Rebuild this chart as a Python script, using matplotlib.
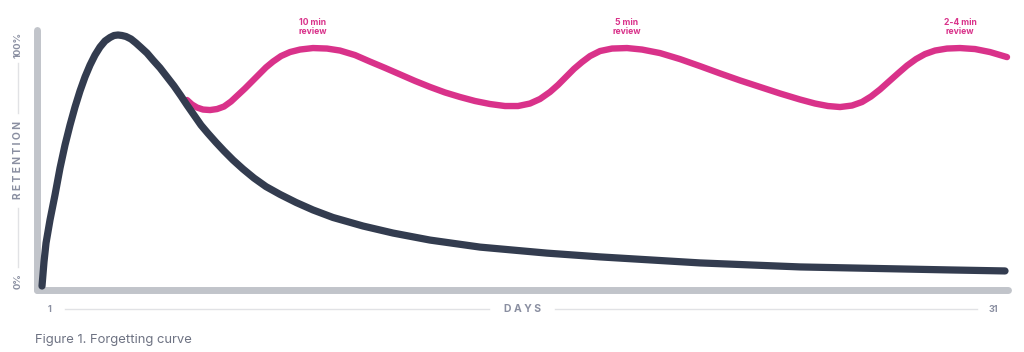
import matplotlib
matplotlib.use("Agg")
import matplotlib.pyplot as plt

# ---- data (days vs retention %) ----
forget_days = [1.000, 1.062, 1.125, 1.249, 1.405, 1.561, 1.717, 1.872, 2.028, 2.184,
               2.340, 2.495, 2.651, 2.807, 2.963, 3.118, 3.243, 3.368, 3.492, 3.617,
               3.773, 3.928, 4.084, 4.271, 4.458, 4.676, 4.894, 5.112, 5.330, 5.517,
               5.735, 5.953, 6.171, 6.421, 6.670, 6.950, 7.262, 7.604, 7.978, 8.414,
               8.913, 9.442, 10.065, 11.000, 11.935, 13.087, 14.645, 16.732, 18.383,
               19.941, 21.498, 23.056, 24.614, 26.171, 27.729, 29.287, 31.000]
forget_ret = [0.0, 9.6, 17.1, 26.3, 36.3, 47.0, 56.2, 64.1, 71.3, 77.7,
              83.3, 88.0, 92.0, 95.2, 97.6, 99.0, 99.8, 100.0, 99.8, 99.4,
              98.4, 96.8, 95.0, 92.8, 90.0, 86.9, 83.3, 79.7, 75.7, 72.1,
              68.1, 64.1, 60.8, 57.2, 53.8, 50.2, 46.6, 43.0, 39.6, 36.5,
              33.3, 30.3, 27.3, 23.9, 21.1, 18.3, 15.5, 13.1, 11.6,
              10.4, 9.2, 8.4, 7.6, 7.2, 6.8, 6.4, 6.0]

review_days = [5.517, 5.673, 5.829, 6.016, 6.234, 6.452, 6.670, 6.888, 7.106, 7.324,
               7.542, 7.760, 7.978, 8.196, 8.445, 8.726, 9.037, 9.442, 9.879, 10.283,
               10.751, 11.218, 11.685, 12.153, 12.620, 13.087, 13.555, 14.022, 14.489, 14.956,
               15.424, 15.829, 16.202, 16.514, 16.826, 17.075, 17.324, 17.573, 17.822, 18.072,
               18.383, 18.757, 19.224, 19.692, 20.252, 20.875, 21.498, 22.121, 22.745, 23.368,
               23.991, 24.614, 25.081, 25.486, 25.860, 26.234, 26.545, 26.826, 27.106, 27.386,
               27.667, 27.947, 28.227, 28.508, 28.819, 29.193, 29.598, 30.065, 30.533, 31.062]
review_ret = [74.1, 72.3, 71.1, 70.3, 70.1, 70.5, 71.5, 73.5, 76.1, 78.7,
              81.5, 84.3, 87.1, 89.4, 91.6, 93.2, 94.2, 94.8, 94.6, 93.8,
              92.0, 89.4, 86.9, 84.3, 81.7, 79.3, 77.1, 75.3, 73.7, 72.5,
              71.7, 71.7, 72.7, 74.5, 77.3, 80.1, 83.3, 86.5, 89.2, 91.6,
              93.6, 94.6, 94.8, 94.2, 92.8, 90.4, 87.6, 84.7, 81.9, 79.3,
              76.7, 74.3, 72.7, 71.7, 71.3, 71.9, 73.3, 75.5, 78.3, 81.5,
              84.7, 87.8, 90.4, 92.4, 93.8, 94.6, 94.8, 94.4, 93.2, 91.2]

review_labels = ["10 min\nreview", "5 min\nreview", "2-4 min\nreview"]
review_label_days = [9.442, 19.224, 29.598]
review_label_ret = [94.8, 94.8, 94.8]

x_tick_labels = ["1", "31"]
y_tick_labels = ["0%", "100%"]

DARK = "#333c4f"
PINK = "#d9328a"
SPINE = "#c1c4ca"
LABEL = "#8a8fa1"
RULE = "#e1e2e5"

W, H = 1024, 352
fig = plt.figure(figsize=(W / 100, H / 100), dpi=100)
plt.rcParams['font.family'] = ['Inter', 'DejaVu Sans']

# main axes: pixel box left 37, right 1008, top 30, bottom 290
L, R, T, B = 37, 1008, 30, 290
ax = fig.add_axes([L / W, 1 - B / H, (R - L) / W, (B - T) / H])
ax.set_xlim(0.844, 31.093)
ax.set_ylim(-1.59, 101.99)
ax.axis("off")

ax.plot([0, 0], [0, 1], transform=ax.transAxes, color=SPINE, lw=5,
        solid_capstyle="round", clip_on=False, zorder=1)
ax.plot([0, 1], [0, 0], transform=ax.transAxes, color=SPINE, lw=5,
        solid_capstyle="round", clip_on=False, zorder=1)

ax.plot(review_days, review_ret, color=PINK, lw=4.6, solid_capstyle="round",
        solid_joinstyle="round", clip_on=False, zorder=2)
ax.plot(forget_days, forget_ret, color=DARK, lw=5.2, solid_capstyle="round",
        solid_joinstyle="round", clip_on=False, zorder=3)

for lab, d, r in zip(review_labels, review_label_days, review_label_ret):
    ax.annotate(lab, (d, r), xytext=(0, 8.5), textcoords="offset points",
                ha="center", va="bottom", fontsize=6.2, fontweight="bold",
                color=PINK, linespacing=1.0)

# overlay axes in pixel coords for decorative labels
ov = fig.add_axes([0, 0, 1, 1])
ov.set_xlim(0, W)
ov.set_ylim(H, 0)
ov.axis("off")

# y label column
ov.text(18, 45, y_tick_labels[1], rotation=90, ha="center", va="center",
        fontsize=6.8, fontweight="bold", color=LABEL)
ov.text(18, 281, y_tick_labels[0], rotation=90, ha="center", va="center",
        fontsize=6.8, fontweight="bold", color=LABEL)
ov.plot([18, 18], [63, 113], color=RULE, lw=1)
ov.plot([18, 18], [208, 267], color=RULE, lw=1)
ov.text(18, 160, "R E T E N T I O N", rotation=90, ha="center", va="center",
        fontsize=7.4, fontweight="bold", color=LABEL)

# x label row
ov.text(50, 309, x_tick_labels[0], ha="center", va="center",
        fontsize=6.5, fontweight="bold", color=LABEL)
ov.text(993, 309, x_tick_labels[1], ha="center", va="center",
        fontsize=6.5, fontweight="bold", color=LABEL)
ov.plot([65, 489], [309, 309], color=RULE, lw=1)
ov.plot([555, 977], [309, 309], color=RULE, lw=1)
ov.text(522, 309, "D A Y S", ha="center", va="center",
        fontsize=7.5, fontweight="bold", color=LABEL)

ov.text(35, 340, "Figure 1. Forgetting curve", ha="left", va="center",
        fontsize=9.4, color="#6e7383")

fig.savefig("out.png", dpi=100, facecolor="white")
